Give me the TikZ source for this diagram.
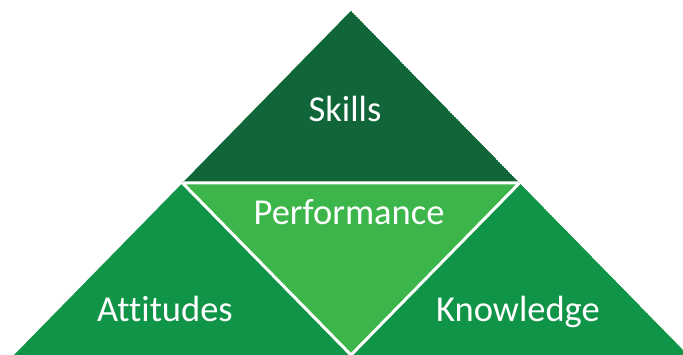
\documentclass[tikz,border=0pt]{standalone}
\usepackage{fontspec}
\setmainfont{Carlito}[Ligatures={NoCommon}]
\usetikzlibrary{calc}
\definecolor{skillsgreen}{RGB}{16,102,56}
\definecolor{sidegreen}{RGB}{16,148,71}
\definecolor{perfgreen}{RGB}{60,181,74}
\tikzset{
  lbl/.style={text=white, anchor=base, inner sep=0pt, font=\fontsize{36.5}{40}\selectfont},
  sep/.style={draw=white, line width=3pt, line join=miter}
}
\begin{document}
\begin{tikzpicture}[x=1pt,y=-1pt]
\useasboundingbox (0,0) rectangle (683,355);
\coordinate (A) at (351,11);
\coordinate (L) at (14,355);
\coordinate (R) at (688,355);
\coordinate (ML) at ($(A)!0.5!(L)$);
\coordinate (MR) at ($(A)!0.5!(R)$);
\coordinate (MB) at ($(L)!0.5!(R)$);
\clip (0,0) rectangle (683,355);
\begin{scope}
\clip (A) -- (L) -- (R) -- cycle;
\fill[sidegreen] (A) -- (L) -- (R) -- cycle;
\fill[skillsgreen] (A) -- (ML) -- (MR) -- cycle;
\fill[perfgreen] (ML) -- (MR) -- (MB) -- cycle;
\draw[sep] (ML) -- (MR) -- (MB) -- cycle;
\end{scope}
\node[lbl] (skills) at (345,122) {Skills};
\node[lbl] (perf) at (349,225) {Performance};
\node[lbl] (att) at (165,322) {Attitudes};
\node[lbl] (know) at (518,322) {Knowledge};
\end{tikzpicture}
\end{document}
